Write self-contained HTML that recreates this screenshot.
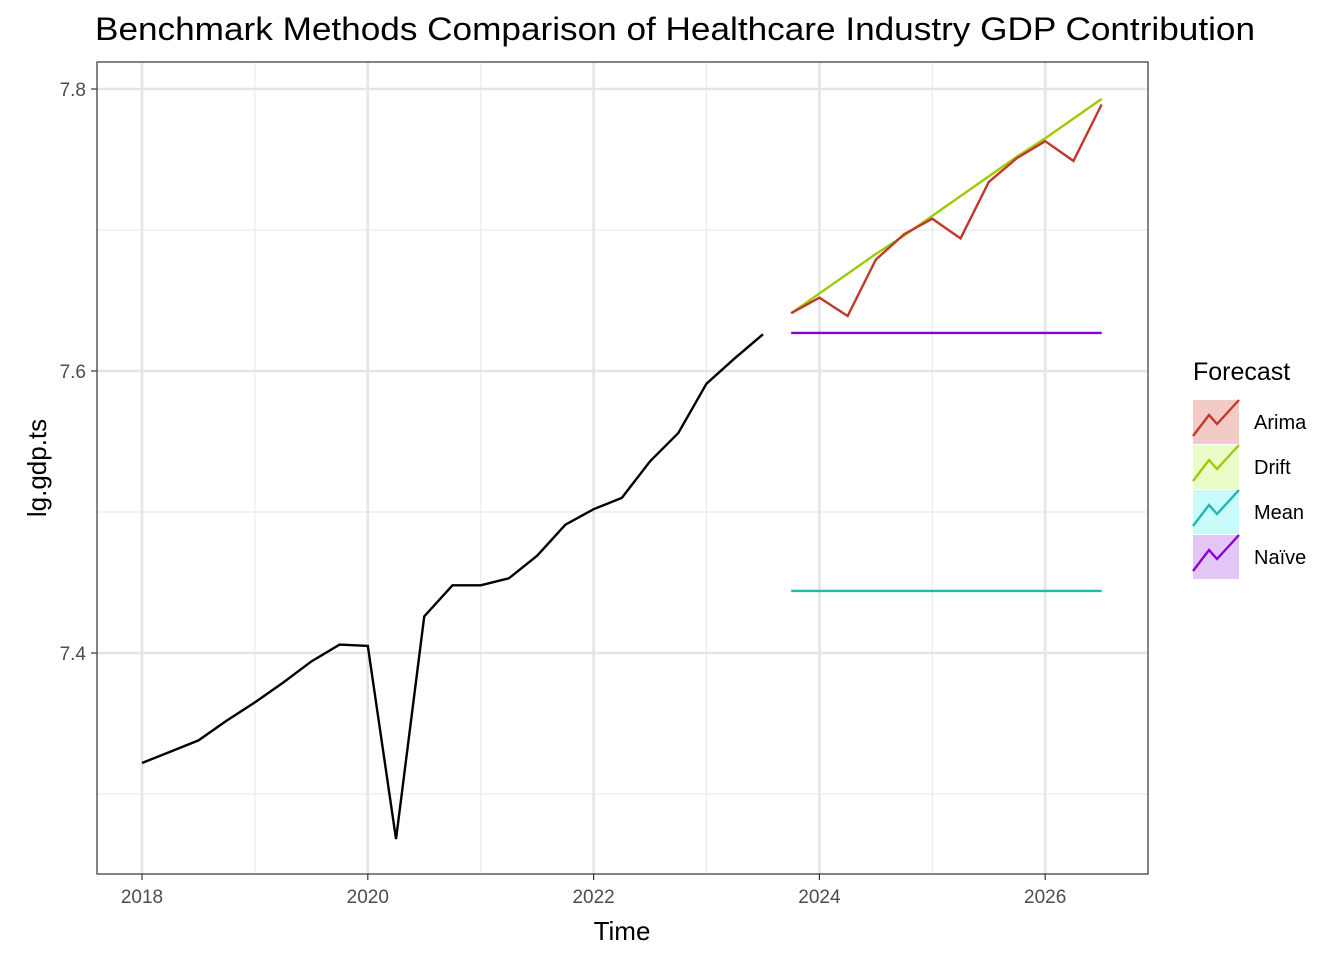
<!DOCTYPE html>
<html><head><meta charset="utf-8"><style>
body{margin:0;background:#fff;font-family:"Liberation Sans",sans-serif}
</style></head><body>
<svg id="chart" width="1344" height="960" xmlns="http://www.w3.org/2000/svg" font-family="Liberation Sans, sans-serif">
<rect width="1344" height="960" fill="#fff"/>
<text x="95" y="40" font-size="32" textLength="1160" lengthAdjust="spacingAndGlyphs" fill="#000">Benchmark Methods Comparison of Healthcare Industry GDP Contribution</text>
<g id="grid"></g>
<g id="series"></g>
<rect x="97" y="62" width="1051" height="812" fill="none" stroke="#333" stroke-width="1.2"/>
<g id="axes"></g>
<text x="622" y="940" font-size="26" text-anchor="middle">Time</text>
<text transform="translate(46,468) rotate(-90)" font-size="26" text-anchor="middle">lg.gdp.ts</text>
<g id="legend"></g>
</svg>
<script>
const histTimes=[2018,2018.25,2018.5,2018.75,2019,2019.25,2019.5,2019.75,2020,2020.25,2020.5,2020.75,2021,2021.25,2021.5,2021.75,2022,2022.25,2022.5,2022.75,2023,2023.25,2023.5];
const histValues=[7.322,7.330,7.338,7.352,7.365,7.379,7.394,7.406,7.405,7.268,7.426,7.448,7.448,7.453,7.469,7.491,7.502,7.510,7.536,7.556,7.591,7.609,7.626];
const fcTimes=[2023.75,2024,2024.25,2024.5,2024.75,2025,2025.25,2025.5,2025.75,2026,2026.25,2026.5];
const arimaValues=[7.641,7.652,7.639,7.679,7.697,7.708,7.694,7.734,7.751,7.763,7.749,7.789];
const driftValues=[7.641,7.655,7.669,7.683,7.696,7.710,7.724,7.738,7.752,7.765,7.779,7.793];
const meanValues=[7.444,7.444,7.444,7.444,7.444,7.444,7.444,7.444,7.444,7.444,7.444,7.444];
const naiveValues=[7.627,7.627,7.627,7.627,7.627,7.627,7.627,7.627,7.627,7.627,7.627,7.627];
const xTicks=[2018,2020,2022,2024,2026];
const xMinor=[2019,2021,2023,2025];
const yTicks=[7.4,7.6,7.8];
const yMinor=[7.3,7.5,7.7];
const legendLabels=["Arima","Drift","Mean","Naïve"];

const NS="http://www.w3.org/2000/svg";
const X=t=>142+(t-2018)*112.9;
const Y=v=>653-(v-7.4)*1410;
function mk(tag,attrs,parent){const e=document.createElementNS(NS,tag);for(const k in attrs)e.setAttribute(k,attrs[k]);document.getElementById(parent).appendChild(e);return e;}
xMinor.forEach(t=>{const l=mk('line',{x1:X(t),x2:X(t),y1:62,y2:874,stroke:'#ebebeb','stroke-width':1.2},'grid');

});
yMinor.forEach(v=>{const l=mk('line',{x1:97,x2:1148,y1:Y(v),y2:Y(v),stroke:'#ebebeb','stroke-width':1.2},'grid');

});
xTicks.forEach(t=>{const l=mk('line',{x1:X(t),x2:X(t),y1:62,y2:874,stroke:'#e5e5e5','stroke-width':2.6},'grid');


const tk=mk('line',{x1:X(t),x2:X(t),y1:874,y2:880,stroke:'#333','stroke-width':1.2},'axes');


const tx=mk('text',{x:X(t),y:903,'font-size':19,fill:'#4d4d4d','text-anchor':'middle'},'axes');tx.textContent=t;

});
yTicks.forEach(v=>{const l=mk('line',{x1:97,x2:1148,y1:Y(v),y2:Y(v),stroke:'#e5e5e5','stroke-width':2.6},'grid');


const tk=mk('line',{x1:91,x2:97,y1:Y(v),y2:Y(v),stroke:'#333','stroke-width':1.2},'axes');


const tx=mk('text',{x:86,y:Y(v)+7,'font-size':19,fill:'#4d4d4d','text-anchor':'end'},'axes');tx.textContent=v.toFixed(1);

});
function line(ts,vs,col,name){const p=mk('polyline',{points:ts.map((t,i)=>X(t)+','+Y(vs[i])).join(' '),fill:'none',stroke:col,'stroke-width':2.4},'series');

}
line(histTimes,histValues,'#000','history-line');
line(fcTimes,meanValues,'#20b8b4','mean-forecast-line');
line(fcTimes,naiveValues,'#8a00d4','naive-forecast-line');
line(fcTimes,driftValues,'#9ccc00','drift-forecast-line');
line(fcTimes,arimaValues,'#c0392b','arima-forecast-line');
const lt=mk('text',{x:1193,y:380,'font-size':25},'legend');lt.textContent='Forecast';


const cols=['#c0392b','#9ccc00','#20b8b4','#8a00d4'];
const fills=['#f3cbc6','#eafcc8','#c9fbfb','#e3c6f6'];
legendLabels.forEach((lab,i)=>{const y0=400+i*45;
const r=mk('rect',{x:1193,y:y0,width:46,height:44,fill:fills[i]},'legend');


const p=mk('polyline',{points:`1193,${y0+36} 1209,${y0+15} 1217,${y0+24} 1239,${y0}`,fill:'none',stroke:cols[i],'stroke-width':2.4},'legend');


const t=mk('text',{x:1254,y:y0+29,'font-size':20},'legend');t.textContent=lab;

});
</script>
</body></html>
